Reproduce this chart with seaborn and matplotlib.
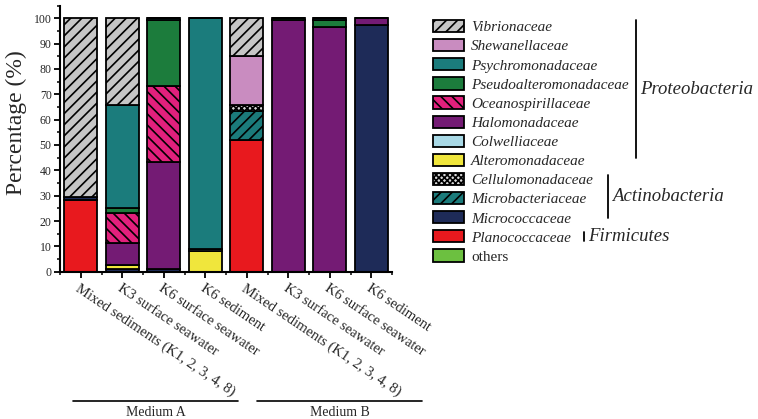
"""Stacked family composition bars for culturable isolates (Medium A / B)."""

import matplotlib
matplotlib.use("Agg")

import matplotlib.pyplot as plt
import numpy as np
import seaborn as sns
from matplotlib.lines import Line2D
from matplotlib.ticker import MultipleLocator

W, H = 758, 419

samples = [
    "Mixed sediments (K1, 2, 3, 4, 8)",
    "K3 surface seawater",
    "K6 surface seawater",
    "K6 sediment",
    "Mixed sediments (K1, 2, 3, 4, 8) ",
    "K3 surface seawater ",
    "K6 surface seawater ",
    "K6 sediment ",
]
tick_labels = [s.strip() for s in samples]
groups = ["Medium A", "Medium B"]

# percentages per sample, listed bottom -> top of the stack
others = [0, 0, 0, 0, 0, 0, 0, 0]
planococcaceae = [28.3, 0, 0, 0, 52.0, 0, 0, 0]
micrococcaceae = [1.0, 1.2, 1.0, 0, 0, 0, 0, 97.4]
microbacteriaceae = [0, 0, 0, 0, 11.4, 0, 0, 0]
cellulomonadaceae = [0, 0, 0, 0, 2.4, 0, 0, 0]
alteromonadaceae = [0, 1.4, 0, 8.3, 0, 0, 0, 0]
colwelliaceae = [0, 0, 0, 0.7, 0, 0, 0, 0]
halomonadaceae = [0, 8.6, 42.4, 0, 0, 99.2, 96.7, 2.6]
oceanospirillaceae = [0, 11.8, 29.9, 0, 0, 0, 0, 0]
pseudoalteromonadaceae = [0, 2.3, 26.0, 0, 0, 0.8, 2.6, 0]
psychromonadaceae = [0, 40.5, 0.7, 91.0, 0, 0, 0.7, 0]
shewanellaceae = [0, 0, 0, 0, 19.3, 0, 0, 0]
vibrionaceae = [70.7, 34.2, 0, 0, 14.9, 0, 0, 0]

layers = [
    ("others", others, "#6cc040", None),
    ("Planococcaceae", planococcaceae, "#e8191e", None),
    ("Micrococcaceae", micrococcaceae, "#1e2b58", None),
    ("Microbacteriaceae", microbacteriaceae, "#1b7b7b", "///"),
    ("Cellulomonadaceae", cellulomonadaceae, "#d8d8d8", "xxxxxx"),
    ("Alteromonadaceae", alteromonadaceae, "#f0e63c", None),
    ("Colwelliaceae", colwelliaceae, "#a9d9e6", None),
    ("Halomonadaceae", halomonadaceae, "#741b74", None),
    ("Oceanospirillaceae", oceanospirillaceae, "#e2207c", "\\\\\\"),
    ("Pseudoalteromonadaceae", pseudoalteromonadaceae, "#1c7c3c", None),
    ("Psychromonadaceae", psychromonadaceae, "#1b7c7c", None),
    ("Shewanellaceae", shewanellaceae, "#c98cc0", None),
    ("Vibrionaceae", vibrionaceae, "#c6c6c6", "///"),
]

phyla = [
    ("Proteobacteria", 20, 158),
    ("Actinobacteria", 175, 218),
    ("Firmicutes", 232, 241),
]


def fx(px):
    return px / W


def fy(py):
    return 1 - py / H


sns.set_style("ticks")
plt.rcParams["font.family"] = ["Liberation Serif", "DejaVu Serif"]
plt.rcParams["hatch.linewidth"] = 1.2

fig = plt.figure(figsize=(W / 100, H / 100), dpi=100)
ax = fig.add_axes([fx(60), fy(271.7), fx(392) - fx(60), fy(5.6) - fy(271.7)])

bottom = np.zeros(len(samples))
for name, vals, color, hatch in layers:
    sns.barplot(x=samples, y=vals, order=samples, color=color, saturation=1,
                width=0.8, errorbar=None, bottom=bottom, hatch=hatch,
                edgecolor="black", linewidth=1.3, label=name, ax=ax)
    bottom = bottom + np.array(vals)

handles, labels = ax.get_legend_handles_labels()
if ax.get_legend() is not None:
    ax.get_legend().remove()

ax.set_xlim(-0.45, 7.45)
ax.set_ylim(0, 105)
ax.set_yticks(np.arange(0, 101, 10))
ax.yaxis.set_minor_locator(MultipleLocator(5))
ax.set_xticks(range(len(samples)))
ax.set_xticks(np.arange(-0.5, 8, 1), minor=True)
ax.set_xticklabels(tick_labels, rotation=-34, ha="left", rotation_mode="anchor",
                   fontsize=10.5)
ax.tick_params(axis="y", labelsize=8.5, pad=2)
ax.tick_params(which="major", direction="out", length=4, width=1.3, color="black")
ax.tick_params(which="minor", direction="out", length=2.5, width=1.1, color="black")
ax.set_xlabel("")
ax.set_ylabel("")
for side in ["top", "right"]:
    ax.spines[side].set_visible(False)
for side in ["left", "bottom"]:
    ax.spines[side].set_linewidth(1.5)
    ax.spines[side].set_color("black")

fig.text(fx(16), fy(123), "Percentage (%)", rotation=90, ha="center", va="center",
         fontsize=17)

# medium brackets under the sample names
for label, (x0, x1) in zip(groups, [(73, 238), (257, 422)]):
    fig.add_artist(Line2D([fx(x0), fx(x1)], [fy(401), fy(401)], color="black", lw=1.2))
    fig.text(fx((x0 + x1) / 2), fy(412.5), label, ha="center", va="center", fontsize=10)

# legend, top entry first
leg = fig.legend(handles[::-1], labels[::-1], loc="upper left",
                 bbox_to_anchor=(fx(433), fy(20)), frameon=False, fontsize=11,
                 handlelength=2.0, handleheight=0.85, handletextpad=0.5,
                 labelspacing=0.31, borderpad=0, borderaxespad=0)
for txt in leg.get_texts():
    if txt.get_text() != "others":
        txt.set_style("italic")

for name, y0, y1 in phyla:
    xl = {"Proteobacteria": 636, "Actinobacteria": 608, "Firmicutes": 584}[name]
    fig.add_artist(Line2D([fx(xl), fx(xl)], [fy(y0), fy(y1)], color="black", lw=1.3))
    fig.text(fx(xl + 4), fy((y0 + y1) / 2), name, ha="left", va="center",
             fontsize=13.5, style="italic")

fig.savefig("out.png", dpi=100)
